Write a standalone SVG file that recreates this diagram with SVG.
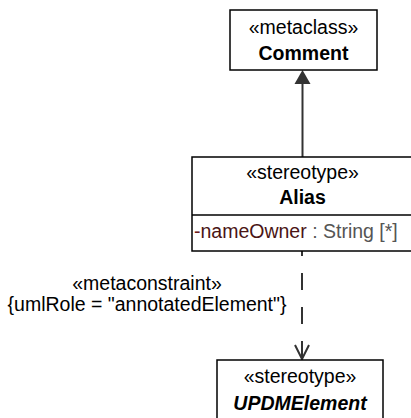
<svg xmlns="http://www.w3.org/2000/svg" width="411" height="418" viewBox="0 0 411 418">
<style>
text{font-family:"Liberation Sans",Arial,sans-serif;font-size:19.5px;fill:#000}
.c{text-anchor:middle}
.b{font-weight:bold}
.i{font-style:italic}
.box{fill:#fff;stroke:#000;stroke-width:1.5}
.ln{stroke:#000;stroke-width:1.5}
.con{stroke:#333;stroke-width:2;fill:none}
</style>
<rect width="411" height="418" fill="#fff"/>
<g id="connectors">
<line class="con" x1="302.5" y1="84" x2="302.5" y2="157"/>
<polygon points="302.5,70 294.5,84 310.5,84" fill="#333"/>
<line class="con" x1="302" y1="251" x2="302" y2="358" stroke-dasharray="17 17" stroke-dashoffset="12"/>
<polyline class="con" points="295,345 302,359 309,345"/>
<text class="c" x="147" y="290">«metaconstraint»</text>
<text class="c" x="147" y="311">{umlRole = "annotatedElement"}</text>
</g>
<g id="Comment">
<rect class="box" x="230" y="10" width="147" height="60"/>
<text class="c" x="303.5" y="34">«metaclass»</text>
<text class="c b" x="303.5" y="60">Comment</text>
</g>
<g id="Alias">
<rect class="box" x="192" y="157" width="225" height="94"/>
<line class="ln" x1="192" y1="215" x2="417" y2="215"/>
<text class="c" x="302.5" y="179">«stereotype»</text>
<text class="c b" x="302.5" y="204">Alias</text>
<text x="194" y="238"><tspan fill="#6b1a1a">-</tspan><tspan fill="#4a1414">nameOwner</tspan><tspan fill="#555"> : String [*]</tspan></text>
</g>
<g id="UPDMElement">
<rect class="box" x="217" y="360" width="166" height="70"/>
<text class="c" x="300" y="383">«stereotype»</text>
<text class="c b i" x="300" y="410">UPDMElement</text>
</g>
</svg>
